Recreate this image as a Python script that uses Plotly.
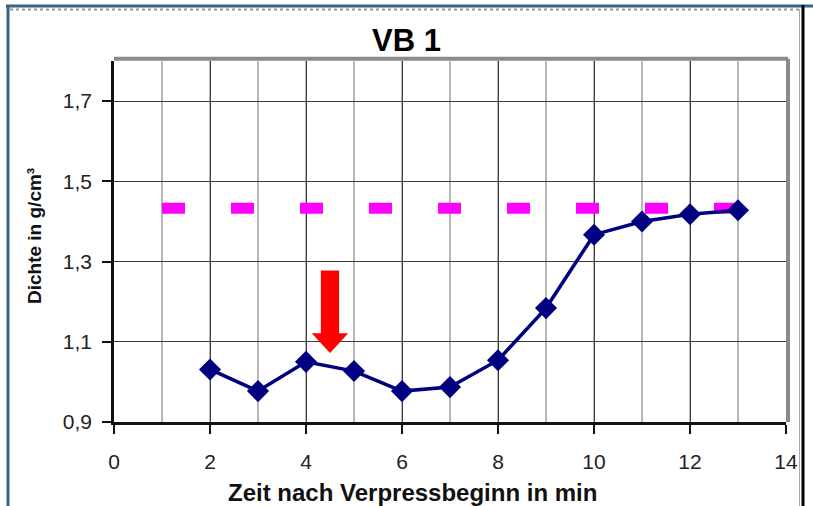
import plotly.graph_objects as go

# ---------------- data ----------------
zeit_min = [2, 3, 4, 5, 6, 7, 8, 9, 10, 11, 12, 13]
dichte = [1.031, 0.977, 1.050, 1.027, 0.977, 0.987, 1.054, 1.184, 1.367, 1.400, 1.418, 1.428]

ref_x = [1, 13]
ref_dichte = [1.433, 1.433]

x_ticks = [0, 2, 4, 6, 8, 10, 12, 14]
y_ticks = [0.9, 1.1, 1.3, 1.5, 1.7]

title_text = "VB 1"
x_title = "Zeit nach Verpressbeginn in min"
y_title = "Dichte in g/cm³"

# red arrow (data units)
arrow_x = 4.5
arrow_top = 1.278
arrow_head = 1.121
arrow_tip = 1.072
shaft_half = 0.19
head_half = 0.38

# ---------------- layout geometry ----------------
FW, FH = 813, 506
L, R, T, B = 114, 27, 61, 84
W = FW - L - R
H = FH - T - B


def px(x):
    return (x - L) / W


def py(y):
    return (T + H - y) / H


FONT = "Liberation Sans, Arial, sans-serif"

fig = go.Figure()

fig.add_trace(go.Scatter(
    x=ref_x, y=ref_dichte, mode="lines",
    line=dict(color="#FF00FF", width=11, dash="23px,46px"),
    hoverinfo="skip", showlegend=False,
))

fig.add_trace(go.Scatter(
    x=zeit_min, y=dichte, mode="lines+markers",
    line=dict(color="#000080", width=3.5),
    marker=dict(symbol="diamond", size=17, color="#000080"),
    showlegend=False,
))

# red arrow as a path in data coordinates
path = (
    f"M {arrow_x - shaft_half},{arrow_top} "
    f"L {arrow_x + shaft_half},{arrow_top} "
    f"L {arrow_x + shaft_half},{arrow_head} "
    f"L {arrow_x + head_half},{arrow_head} "
    f"L {arrow_x},{arrow_tip} "
    f"L {arrow_x - head_half},{arrow_head} "
    f"L {arrow_x - shaft_half},{arrow_head} Z"
)
shapes = [dict(type="path", xref="x", yref="y", path=path,
               fillcolor="#FF0000", line=dict(width=0), layer="above")]

# plot-area frame: grey top and right
shapes.append(dict(type="line", xref="paper", yref="paper", x0=0, x1=1.003, y0=1.006, y1=1.006,
                   line=dict(color="#8a8a8a", width=4)))
shapes.append(dict(type="line", xref="paper", yref="paper", x0=1.003, x1=1.003, y0=0, y1=1.006,
                   line=dict(color="#8a8a8a", width=4)))

# outer decoration frame
shapes += [
    dict(type="line", xref="paper", yref="paper", x0=px(6), x1=px(813), y0=py(6), y1=py(6),
         line=dict(color="#3a6383", width=3)),
    dict(type="line", xref="paper", yref="paper", x0=px(8), x1=px(8), y0=py(5), y1=py(506),
         line=dict(color="#3a6383", width=3)),
    dict(type="line", xref="paper", yref="paper", x0=px(10), x1=px(799), y0=py(9.5), y1=py(9.5),
         line=dict(color="#999999", width=2, dash="dot")),
    dict(type="line", xref="paper", yref="paper", x0=px(799.5), x1=px(799.5), y0=py(9), y1=py(506),
         line=dict(color="#aaaaaa", width=1)),
    dict(type="line", xref="paper", yref="paper", x0=px(803), x1=px(803), y0=py(5), y1=py(506),
         line=dict(color="#000000", width=3)),
]

annotations = [
    dict(text=f"<b>{x_title}</b>", xref="paper", yref="paper", x=px(412), y=py(492),
         xanchor="center", yanchor="middle", showarrow=False,
         font=dict(family=FONT, size=24, color="#111111")),
    dict(text=f"<b>{y_title}</b>", xref="paper", yref="paper", x=px(34), y=py(236),
         xanchor="center", yanchor="middle", showarrow=False, textangle=-90,
         font=dict(family=FONT, size=19, color="#111111")),
]

fig.update_layout(
    width=FW, height=FH,
    margin=dict(l=L, r=R, t=T, b=B, pad=0),
    paper_bgcolor="white", plot_bgcolor="white",
    separators=",.",
    title=dict(text=f"<b>{title_text}</b>", x=0.5, xref="container", xanchor="center",
               y=1 - 40 / FH, yref="container", yanchor="middle",
               font=dict(family=FONT, size=31, color="#000000")),
    font=dict(family=FONT, size=21, color="#222222"),
    shapes=shapes,
    annotations=annotations,
    xaxis=dict(
        range=[0, 14], tickvals=x_ticks, ticktext=[str(v) for v in x_ticks],
        showgrid=True, gridcolor="#3c3c3c", gridwidth=1.3,
        minor=dict(dtick=1, tick0=0, showgrid=True, gridcolor="#b8b8b8", gridwidth=2, ticks=""),
        showline=True, linecolor="#111111", linewidth=2.5,
        ticks="outside", ticklen=9, tickwidth=1.5, tickcolor="#111111",
        ticklabelstandoff=10,
        zeroline=False, fixedrange=True,
        tickfont=dict(family=FONT, size=21, color="#222222"),
    ),
    yaxis=dict(
        range=[0.9, 1.8], tickvals=y_ticks, tickformat=".1f",
        showgrid=True, gridcolor="#3c3c3c", gridwidth=1.3,
        showline=True, linecolor="#111111", linewidth=2.5,
        ticks="outside", ticklen=9, tickwidth=1.5, tickcolor="#111111",
        ticklabelstandoff=6,
        zeroline=False, fixedrange=True,
        tickfont=dict(family=FONT, size=21, color="#222222"),
    ),
)

fig.write_html(
    "out.html",
    config={"displayModeBar": False},
    post_script="document.body.style.margin='0';document.body.style.overflow='hidden';",
)
